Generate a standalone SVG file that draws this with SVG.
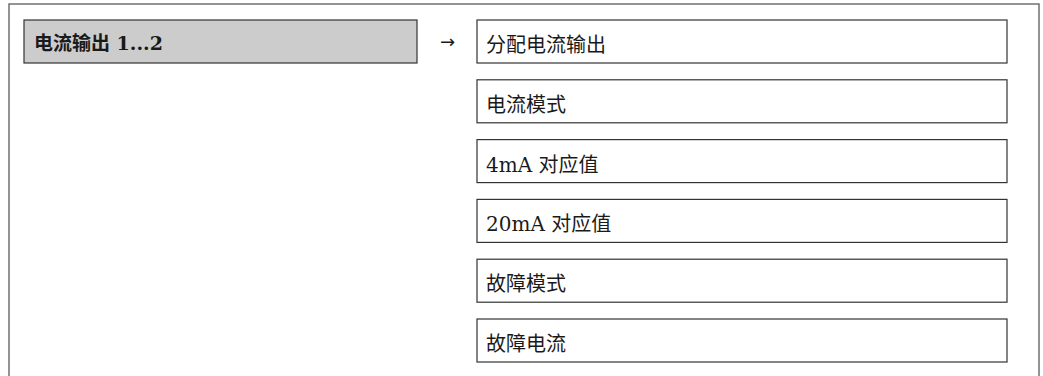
<svg xmlns="http://www.w3.org/2000/svg" width="1043" height="376" viewBox="0 0 1043 376">
<style>
.frame{fill:none;stroke:#707070;stroke-width:1.5}
.box{fill:#ffffff;stroke:#333333;stroke-width:1.2}
.head{fill:#cccccc;stroke:#333333;stroke-width:1.2}
text{font-family:"DejaVu Serif","Noto Sans CJK SC",serif;font-size:20px;fill:#1a1a1a}
.b{font-weight:bold;font-size:19px}
.arr{font-family:"DejaVu Sans",sans-serif;font-size:18px}
</style>
<rect width="1043" height="376" fill="#ffffff"/>
<path class="frame" d="M9,377 V4 H1039 V377"/>
<g id="node-main">
<rect class="head" x="24" y="20" width="393" height="43"/>
<text class="b" x="34" y="50">电流输出 1...2</text>
</g>
<g id="connectors">
<text class="arr" x="440" y="48">→</text>
</g>
<g id="node-1"><rect class="box" x="477" y="20" width="530" height="43"/><text x="486" y="52">分配电流输出</text></g>
<g id="node-2"><rect class="box" x="477" y="79.8" width="530" height="43"/><text x="486" y="111.8">电流模式</text></g>
<g id="node-3"><rect class="box" x="477" y="139.6" width="530" height="43"/><text x="486" y="171.6">4mA 对应值</text></g>
<g id="node-4"><rect class="box" x="477" y="199.4" width="530" height="43"/><text x="486" y="231.4">20mA 对应值</text></g>
<g id="node-5"><rect class="box" x="477" y="259.2" width="530" height="43"/><text x="486" y="291.2">故障模式</text></g>
<g id="node-6"><rect class="box" x="477" y="319" width="530" height="43"/><text x="486" y="351">故障电流</text></g>
</svg>
